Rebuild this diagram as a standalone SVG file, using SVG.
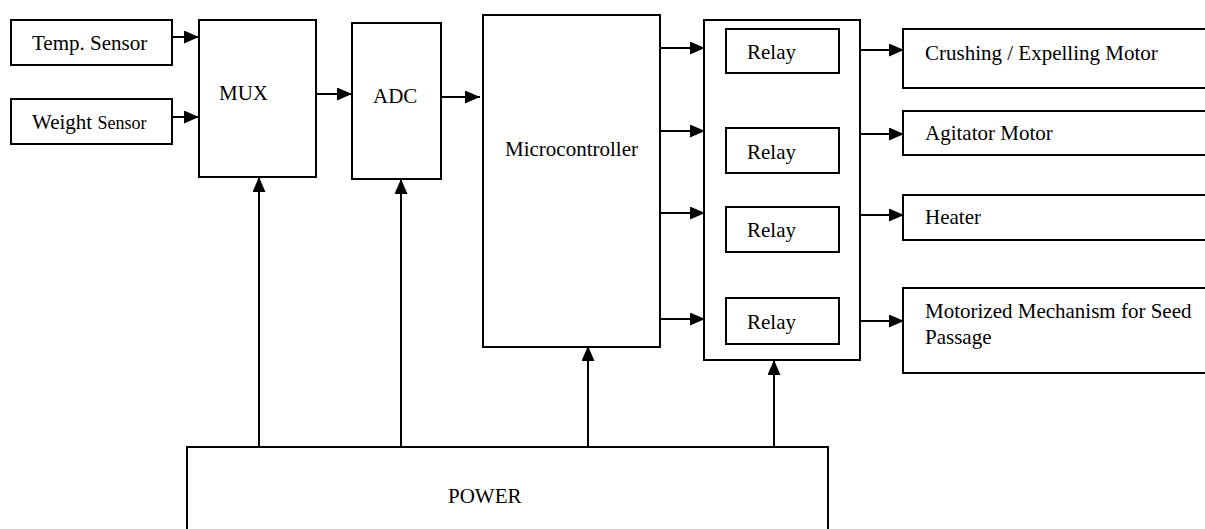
<svg xmlns="http://www.w3.org/2000/svg" width="1205" height="529" viewBox="0 0 1205 529">
<style>
.box{fill:#fff;stroke:#000;stroke-width:2}
.lbl{font-family:"Liberation Serif","Times New Roman",serif;font-size:21px;fill:#000}
.con{stroke:#000;stroke-width:2;fill:none;marker-end:url(#ah)}
.plain{stroke:#000;stroke-width:2;fill:none}
</style>
<defs>
<marker id="ah" markerUnits="userSpaceOnUse" markerWidth="16" markerHeight="14" refX="15" refY="6.5" orient="auto">
<path d="M0,0 L15,6.5 L0,13 z" fill="#000"/>
</marker>
</defs>
<rect width="1205" height="529" fill="#fff"/>
<g id="temp"><rect class="box" x="11" y="20" width="161" height="45"/><text class="lbl" x="32" y="50">Temp. Sensor</text></g>
<g id="weight"><rect class="box" x="11" y="99" width="161" height="45"/><text class="lbl" x="32" y="129">Weight <tspan font-size="18">Sensor</tspan></text></g>
<g id="mux"><rect class="box" x="199" y="20" width="117" height="157"/><text class="lbl" x="219" y="100">MUX</text></g>
<g id="adc"><rect class="box" x="352" y="23" width="89" height="156"/><text class="lbl" x="373" y="103">ADC</text></g>
<g id="micro"><rect class="box" x="483" y="15" width="177" height="332"/><text class="lbl" x="505" y="156">Microcontroller</text></g>
<g id="relays"><rect class="box" x="704" y="20" width="156" height="340"/></g>
<g id="relay1"><rect class="box" x="726" y="29" width="113" height="44"/><text class="lbl" x="747" y="59">Relay</text></g>
<g id="relay2"><rect class="box" x="726" y="128" width="113" height="45"/><text class="lbl" x="747" y="159">Relay</text></g>
<g id="relay3"><rect class="box" x="726" y="207" width="113" height="45"/><text class="lbl" x="747" y="237">Relay</text></g>
<g id="relay4"><rect class="box" x="726" y="298" width="113" height="46"/><text class="lbl" x="747" y="329">Relay</text></g>
<g id="crushing"><rect class="box" x="903" y="29" width="320" height="59"/><text class="lbl" x="925" y="60">Crushing / Expelling Motor</text></g>
<g id="agitator"><rect class="box" x="903" y="111" width="320" height="44"/><text class="lbl" x="925" y="140">Agitator Motor</text></g>
<g id="heater"><rect class="box" x="903" y="195" width="320" height="45"/><text class="lbl" x="925" y="224">Heater</text></g>
<g id="motorized"><rect class="box" x="903" y="288" width="320" height="85"/><text class="lbl" x="925" y="318">Motorized Mechanism for Seed</text><text class="lbl" x="925" y="344">Passage</text></g>
<g id="power"><rect class="box" x="187" y="447" width="641" height="100"/><text class="lbl" x="448" y="503">POWER</text></g>
<g id="connectors">
<line class="con" x1="172" y1="37" x2="199" y2="37"/>
<line class="con" x1="172" y1="117" x2="199" y2="117"/>
<line class="con" x1="316" y1="94" x2="352" y2="94"/>
<line class="con" x1="441" y1="97" x2="480" y2="97"/>
<line class="con" x1="660" y1="48" x2="705" y2="48"/>
<line class="con" x1="660" y1="131" x2="705" y2="131"/>
<line class="con" x1="660" y1="213" x2="705" y2="213"/>
<line class="con" x1="660" y1="319" x2="705" y2="319"/>
<line class="con" x1="860" y1="50" x2="904" y2="50"/>
<line class="con" x1="860" y1="134" x2="904" y2="134"/>
<line class="con" x1="860" y1="215" x2="904" y2="215"/>
<line class="con" x1="860" y1="321" x2="904" y2="321"/>
<line class="con" x1="259" y1="447" x2="259" y2="177"/>
<line class="con" x1="401" y1="447" x2="401" y2="179"/>
<line class="con" x1="588" y1="447" x2="588" y2="346"/>
<line class="con" x1="774" y1="447" x2="774" y2="360"/>
</g>
</svg>
